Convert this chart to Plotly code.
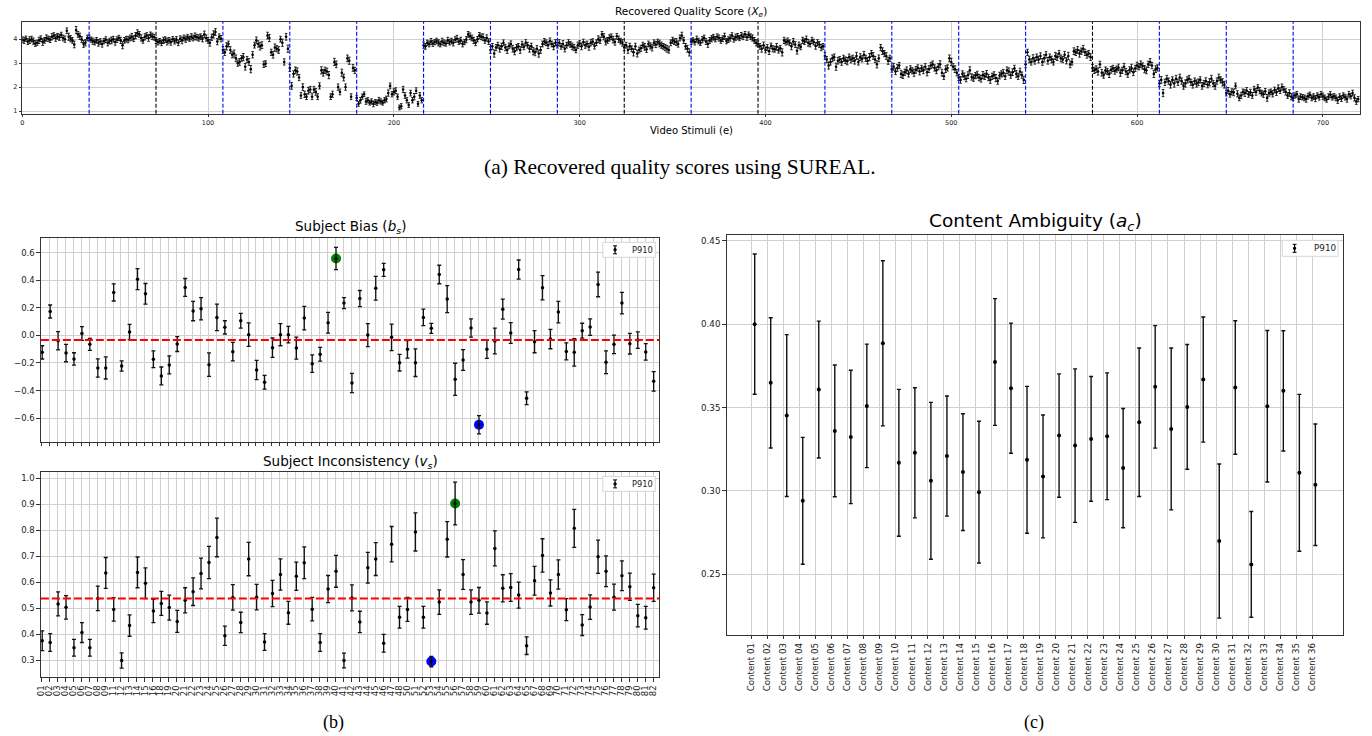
import numpy as np
import plotly.graph_objects as go

# ---------------- (a) Recovered quality scores, 20 blocks of 36 stimuli ----------------
seg_01 = [3.98, 3.95, 4.02, 3.90, 3.96, 4.00, 3.92, 3.82, 3.85, 3.95, 4.02, 3.88, 3.95, 4.05, 4.02, 3.98, 4.10, 4.15, 4.05, 4.12, 4.08, 4.18, 4.05, 4.00, 4.35, 4.10, 4.02, 3.95, 3.78, 4.38, 4.20, 4.12, 3.98, 3.80, 3.85, 4.05]
seg_02 = [4.05, 3.98, 3.92, 3.88, 3.95, 3.85, 3.90, 3.80, 3.92, 3.98, 3.85, 3.92, 3.95, 4.00, 3.88, 3.98, 4.05, 3.95, 3.75, 3.95, 4.00, 3.98, 4.05, 4.10, 4.02, 4.15, 4.25, 4.20, 4.05, 3.95, 4.10, 4.15, 4.05, 4.18, 4.12, 4.08]
seg_03 = [3.95, 3.88, 3.92, 3.85, 3.95, 3.98, 3.90, 3.95, 3.88, 4.00, 3.92, 3.98, 3.85, 4.02, 3.95, 4.05, 4.00, 4.08, 4.02, 4.10, 4.05, 4.12, 4.08, 4.05, 4.10, 4.02, 4.20, 4.05, 3.95, 3.85, 4.08, 4.20, 4.30, 3.90, 4.10, 4.02]
seg_04 = [3.55, 3.45, 3.70, 3.80, 3.55, 3.35, 3.40, 3.20, 3.00, 3.05, 3.20, 3.25, 2.85, 3.15, 3.05, 2.75, 3.35, 3.75, 3.95, 3.80, 3.70, 3.75, 2.95, 2.98, 4.15, 4.05, 3.45, 3.35, 3.65, 3.60, 3.55, 4.00, 3.85, 3.05, 4.10, 3.60]
seg_05 = [2.80, 2.05, 2.55, 2.70, 2.65, 2.40, 1.65, 2.00, 1.70, 1.60, 1.85, 1.90, 1.60, 1.90, 1.80, 1.60, 2.05, 2.70, 2.60, 2.70, 2.65, 2.50, 1.60, 1.70, 3.05, 2.95, 2.00, 1.80, 2.60, 2.40, 2.00, 3.20, 3.10, 1.60, 2.80, 2.70]
seg_06 = [1.55, 1.30, 1.45, 1.60, 1.70, 1.40, 1.45, 1.35, 1.40, 1.30, 1.38, 1.35, 1.45, 1.40, 1.35, 1.45, 1.50, 1.75, 2.05, 1.70, 1.80, 1.85, 1.60, 1.15, 1.20, 1.90, 1.65, 1.45, 1.25, 1.75, 1.45, 1.60, 1.85, 1.30, 1.65, 1.45]
seg_07 = [3.75, 3.70, 3.85, 3.80, 3.90, 3.82, 3.88, 3.92, 3.85, 3.80, 3.90, 3.85, 3.82, 3.95, 3.88, 3.92, 3.85, 3.98, 4.02, 3.90, 3.95, 3.80, 3.88, 3.98, 4.20, 4.12, 4.05, 3.95, 3.85, 4.00, 4.15, 4.10, 4.08, 3.95, 4.05, 3.90]
seg_08 = [3.55, 3.70, 3.40, 3.65, 3.75, 3.60, 3.70, 3.85, 3.65, 3.55, 3.72, 3.80, 3.60, 3.50, 3.65, 3.70, 3.55, 3.78, 3.68, 3.85, 3.75, 3.60, 3.70, 3.50, 3.45, 3.60, 3.40, 3.55, 3.80, 3.90, 3.85, 3.75, 3.92, 3.80, 3.70, 3.85]
seg_09 = [3.75, 3.85, 3.70, 3.80, 3.60, 3.75, 3.85, 3.78, 3.70, 3.65, 3.55, 3.75, 3.82, 3.70, 3.88, 3.75, 3.80, 3.68, 3.85, 3.90, 3.72, 3.85, 4.00, 3.95, 4.20, 4.10, 3.90, 3.95, 4.05, 4.10, 3.98, 3.88, 4.12, 4.00, 3.92, 3.85]
seg_10 = [3.65, 3.75, 3.55, 3.70, 3.60, 3.45, 3.70, 3.40, 3.55, 3.62, 3.75, 3.68, 3.58, 3.80, 3.72, 3.65, 3.85, 3.78, 3.88, 3.82, 3.75, 3.70, 3.65, 3.60, 3.55, 3.85, 3.95, 3.90, 3.88, 3.80, 4.05, 4.15, 3.95, 3.70, 3.60, 3.45]
seg_11 = [3.90, 3.95, 3.88, 4.00, 3.92, 3.85, 3.98, 4.05, 3.90, 3.80, 3.95, 4.02, 4.08, 4.00, 4.10, 4.05, 3.95, 4.02, 4.12, 3.92, 3.98, 4.05, 4.15, 4.00, 4.08, 4.12, 4.05, 4.15, 4.10, 4.20, 4.08, 4.18, 4.10, 4.05, 3.95, 3.85]
seg_12 = [3.80, 3.70, 3.60, 3.75, 3.55, 3.65, 3.50, 3.72, 3.60, 3.58, 3.68, 3.55, 3.62, 3.45, 3.95, 3.88, 3.92, 3.85, 3.70, 3.90, 3.78, 3.52, 3.75, 3.68, 3.95, 3.90, 4.00, 3.85, 3.80, 3.95, 3.88, 3.72, 3.85, 3.78, 3.65, 3.70]
seg_13 = [3.30, 3.15, 2.90, 3.05, 3.20, 3.25, 2.85, 3.10, 3.15, 3.05, 3.20, 3.12, 3.08, 3.25, 3.15, 3.20, 3.10, 3.30, 3.05, 3.25, 3.18, 3.35, 3.20, 3.10, 3.25, 3.40, 3.30, 3.15, 2.95, 3.20, 3.65, 3.50, 3.40, 3.30, 3.10, 3.20]
seg_14 = [2.75, 2.85, 2.65, 2.80, 2.90, 2.55, 2.50, 2.62, 2.70, 2.55, 2.75, 2.68, 2.60, 2.72, 2.80, 2.65, 2.78, 2.70, 2.85, 2.62, 2.75, 2.90, 2.95, 2.80, 2.70, 2.85, 2.95, 2.60, 2.45, 2.75, 2.80, 3.20, 3.05, 2.85, 2.75, 2.60]
seg_15 = [2.40, 2.30, 2.55, 2.45, 2.35, 2.50, 2.70, 2.42, 2.38, 2.48, 2.52, 2.40, 2.35, 2.50, 2.45, 2.55, 2.40, 2.30, 2.45, 2.50, 2.38, 2.25, 2.48, 2.55, 2.60, 2.45, 2.70, 2.65, 2.50, 2.62, 2.78, 2.55, 2.45, 2.65, 2.50, 2.30]
seg_16 = [2.95, 3.45, 3.15, 3.05, 3.20, 3.10, 3.25, 3.15, 3.30, 3.05, 3.20, 3.35, 3.10, 3.25, 3.15, 3.05, 3.30, 3.25, 3.40, 3.20, 3.15, 3.35, 3.10, 3.30, 2.95, 3.05, 3.50, 3.45, 3.55, 3.40, 3.50, 3.60, 3.45, 3.35, 3.40, 3.25]
seg_17 = [2.80, 2.70, 2.75, 2.65, 2.95, 2.60, 2.50, 2.70, 2.65, 2.55, 2.72, 2.78, 2.68, 2.75, 2.82, 2.60, 2.70, 2.85, 2.65, 2.55, 2.72, 2.80, 2.62, 2.78, 2.90, 2.85, 2.95, 2.88, 2.75, 2.70, 2.95, 3.05, 2.90, 2.55, 2.75, 2.80]
seg_18 = [2.15, 2.30, 1.75, 2.20, 2.35, 2.25, 2.10, 2.30, 2.15, 2.35, 2.20, 2.40, 2.25, 2.05, 2.15, 2.30, 2.35, 2.20, 2.10, 2.25, 2.15, 2.20, 2.30, 2.05, 2.15, 2.25, 2.10, 2.20, 2.35, 2.15, 2.05, 2.25, 2.40, 2.30, 2.20, 2.10]
seg_19 = [1.75, 1.85, 1.70, 1.80, 1.78, 2.05, 1.72, 1.55, 1.65, 1.80, 1.75, 1.85, 1.70, 1.78, 1.65, 1.90, 1.80, 1.98, 1.85, 1.75, 1.70, 1.82, 1.55, 1.75, 1.80, 1.72, 1.88, 1.78, 1.95, 1.85, 2.00, 1.90, 1.80, 1.65, 1.75, 1.60]
seg_20 = [1.55, 1.65, 1.70, 1.50, 1.60, 1.58, 1.55, 1.50, 1.62, 1.68, 1.55, 1.60, 1.52, 1.65, 1.58, 1.70, 1.62, 1.55, 1.48, 1.60, 1.68, 1.58, 1.62, 1.55, 1.45, 1.60, 1.52, 1.65, 1.58, 1.50, 1.70, 1.62, 1.75, 1.55, 1.40, 1.50]

# 95% CI half-widths (hundredths)
err_01 = [12, 13, 11, 12, 14, 12, 13, 12, 11, 13, 12, 14, 12, 13, 11, 12, 13, 12, 14, 12, 13, 11, 12, 13, 12, 15, 13, 12, 14, 15, 12, 13, 12, 14, 13, 12]
err_02 = [12, 11, 13, 12, 12, 14, 12, 13, 11, 12, 13, 12, 14, 12, 13, 12, 11, 13, 15, 12, 12, 13, 12, 14, 12, 13, 14, 12, 13, 12, 13, 12, 14, 12, 13, 12]
err_03 = [13, 12, 11, 12, 13, 12, 14, 12, 13, 11, 12, 13, 12, 12, 14, 12, 13, 12, 11, 13, 12, 14, 12, 13, 12, 13, 14, 13, 12, 14, 13, 15, 14, 13, 12, 13]
err_04 = [14, 13, 15, 12, 14, 13, 15, 14, 13, 14, 12, 15, 14, 13, 14, 15, 13, 12, 14, 13, 15, 14, 13, 12, 14, 15, 13, 14, 15, 13, 14, 12, 15, 13, 14, 15]
err_05 = [15, 14, 13, 14, 15, 13, 12, 14, 13, 12, 14, 13, 12, 13, 14, 12, 13, 15, 14, 13, 14, 15, 12, 13, 15, 14, 13, 12, 15, 14, 13, 14, 15, 12, 14, 13]
err_06 = [11, 10, 12, 11, 10, 12, 11, 10, 11, 12, 10, 11, 12, 11, 10, 11, 12, 13, 12, 11, 13, 12, 11, 10, 11, 13, 12, 11, 10, 12, 11, 13, 12, 10, 12, 11]
err_07 = [13, 12, 11, 12, 13, 12, 11, 12, 13, 12, 14, 12, 11, 13, 12, 12, 13, 12, 14, 12, 13, 12, 11, 13, 12, 14, 12, 13, 12, 11, 13, 12, 14, 12, 13, 12]
err_08 = [14, 12, 15, 13, 12, 14, 13, 12, 13, 14, 12, 13, 14, 15, 13, 12, 14, 13, 12, 13, 12, 14, 13, 15, 14, 13, 15, 14, 12, 13, 12, 14, 13, 12, 14, 13]
err_09 = [12, 13, 12, 14, 13, 12, 13, 12, 14, 13, 12, 13, 12, 14, 12, 13, 12, 14, 13, 12, 13, 12, 14, 13, 12, 13, 14, 12, 13, 12, 14, 13, 12, 13, 12, 14]
err_10 = [13, 12, 14, 13, 12, 15, 13, 14, 12, 13, 12, 14, 13, 12, 13, 14, 12, 13, 12, 14, 13, 12, 13, 14, 13, 12, 13, 12, 14, 13, 12, 14, 13, 12, 14, 15]
err_11 = [12, 11, 12, 13, 12, 11, 13, 12, 12, 14, 12, 13, 12, 11, 12, 13, 12, 12, 13, 11, 12, 13, 12, 12, 13, 12, 11, 13, 12, 12, 13, 12, 12, 13, 12, 13]
err_12 = [13, 12, 14, 13, 12, 13, 14, 12, 13, 12, 14, 13, 12, 15, 13, 12, 13, 12, 14, 13, 12, 14, 13, 12, 13, 12, 13, 14, 12, 13, 12, 14, 13, 12, 13, 12]
err_13 = [14, 13, 15, 13, 14, 13, 15, 14, 13, 14, 13, 14, 15, 13, 14, 13, 14, 15, 13, 14, 13, 14, 13, 14, 15, 13, 14, 13, 15, 14, 13, 14, 13, 14, 15, 13]
err_14 = [13, 14, 13, 14, 13, 15, 14, 13, 14, 13, 14, 13, 15, 14, 13, 14, 13, 14, 13, 15, 14, 13, 14, 13, 14, 13, 15, 14, 13, 14, 13, 14, 15, 13, 14, 13]
err_15 = [13, 14, 13, 14, 13, 14, 15, 13, 14, 13, 14, 13, 14, 15, 13, 14, 13, 14, 13, 14, 15, 13, 14, 13, 14, 13, 14, 15, 13, 14, 13, 14, 13, 14, 13, 15]
err_16 = [14, 13, 14, 13, 15, 14, 13, 14, 13, 14, 15, 13, 14, 13, 14, 13, 15, 14, 13, 14, 13, 14, 13, 15, 14, 13, 14, 13, 14, 15, 13, 14, 13, 14, 13, 14]
err_17 = [14, 13, 14, 15, 13, 14, 13, 14, 13, 15, 14, 13, 14, 13, 14, 15, 13, 14, 13, 14, 13, 15, 14, 13, 14, 13, 14, 13, 15, 14, 13, 14, 13, 15, 14, 13]
err_18 = [13, 14, 15, 13, 14, 13, 14, 13, 15, 14, 13, 14, 13, 14, 15, 13, 14, 13, 14, 13, 15, 14, 13, 14, 13, 14, 13, 15, 14, 13, 14, 13, 14, 13, 15, 14]
err_19 = [12, 13, 12, 13, 14, 12, 13, 12, 13, 12, 14, 13, 12, 13, 12, 13, 14, 12, 13, 12, 13, 12, 14, 13, 12, 13, 12, 13, 14, 12, 13, 12, 13, 12, 14, 13]
err_20 = [12, 11, 12, 13, 12, 11, 12, 13, 12, 11, 12, 12, 13, 11, 12, 12, 13, 12, 11, 12, 13, 12, 11, 12, 13, 12, 12, 11, 12, 13, 12, 11, 12, 13, 12, 11]

segments = [seg_01, seg_02, seg_03, seg_04, seg_05, seg_06, seg_07, seg_08, seg_09, seg_10,
            seg_11, seg_12, seg_13, seg_14, seg_15, seg_16, seg_17, seg_18, seg_19, seg_20]
seg_errors = [err_01, err_02, err_03, err_04, err_05, err_06, err_07, err_08, err_09, err_10,
              err_11, err_12, err_13, err_14, err_15, err_16, err_17, err_18, err_19, err_20]

block_boundaries = [36, 72, 108, 144, 180, 216, 252, 288, 324, 360, 396, 432, 468, 504, 540, 576, 612, 648, 684]
boundary_colors = ["blue", "black", "blue", "blue", "blue", "blue", "blue", "blue", "black", "blue",
                   "black", "blue", "blue", "blue", "blue", "black", "blue", "blue", "blue"]

# ---------------- (b) Subject bias / inconsistency ----------------
subjects = ["01", "02", "03", "04", "05", "06", "07", "08", "09", "11", "12", "13", "14", "15", "16",
            "18", "19", "20", "21", "22", "23", "24", "25", "26", "27", "28", "29", "30", "31", "32",
            "33", "34", "35", "36", "37", "38", "39", "40", "41", "42", "43", "44", "45", "46", "47",
            "48", "50", "51", "52", "53", "54", "55", "56", "57", "58", "59", "60", "61", "62", "63",
            "64", "65", "67", "68", "69", "70", "71", "72", "73", "74", "75", "76", "77", "78", "79",
            "80", "81", "82"]

bias = [-0.123, 0.173, -0.039, -0.128, -0.171, 0.014, -0.065, -0.236, -0.236, 0.311, -0.222, 0.024,
        0.407, 0.301, -0.173, -0.294, -0.214, -0.063, 0.347, 0.176, 0.193, -0.212, 0.130, 0.058,
        -0.118, 0.106, 0.005, -0.251, -0.340, -0.089, 0.005, 0.005, -0.092, 0.125, -0.205, -0.137,
        0.092, 0.557, 0.234, -0.345, 0.267, 0.002, 0.342, 0.475, -0.014, -0.198, -0.101, -0.198,
        0.130, 0.051, 0.441, 0.263, -0.318, -0.178, 0.053, -0.648, -0.101, -0.041, 0.190, 0.017,
        0.477, -0.455, -0.046, 0.345, -0.027, 0.169, -0.116, -0.123, 0.034, 0.060, 0.369, -0.195,
        -0.065, 0.234, -0.060, -0.034, -0.120, -0.333]
bias_err = [0.048, 0.047, 0.066, 0.063, 0.045, 0.050, 0.043, 0.066, 0.080, 0.062, 0.037, 0.055,
            0.076, 0.075, 0.061, 0.065, 0.065, 0.054, 0.065, 0.070, 0.080, 0.085, 0.096, 0.048,
            0.067, 0.053, 0.085, 0.070, 0.050, 0.070, 0.080, 0.060, 0.080, 0.085, 0.063, 0.050,
            0.075, 0.080, 0.040, 0.070, 0.058, 0.083, 0.086, 0.047, 0.096, 0.060, 0.064, 0.100,
            0.060, 0.036, 0.067, 0.098, 0.116, 0.075, 0.066, 0.066, 0.065, 0.093, 0.073, 0.075,
            0.069, 0.046, 0.080, 0.088, 0.070, 0.078, 0.061, 0.100, 0.054, 0.060, 0.089, 0.082,
            0.067, 0.078, 0.075, 0.060, 0.060, 0.071]
bias_mean_line = -0.034

inconsistency = [0.376, 0.369, 0.517, 0.504, 0.349, 0.407, 0.349, 0.538, 0.636, 0.496, 0.300, 0.434,
                 0.638, 0.596, 0.490, 0.519, 0.503, 0.450, 0.531, 0.564, 0.634, 0.676, 0.772, 0.395,
                 0.542, 0.446, 0.689, 0.543, 0.371, 0.557, 0.630, 0.483, 0.623, 0.675, 0.497, 0.369,
                 0.574, 0.642, 0.300, 0.540, 0.448, 0.656, 0.689, 0.366, 0.746, 0.466, 0.496, 0.793,
                 0.466, 0.296, 0.524, 0.765, 0.902, 0.630, 0.524, 0.531, 0.482, 0.730, 0.577, 0.580,
                 0.551, 0.357, 0.606, 0.703, 0.559, 0.630, 0.495, 0.807, 0.436, 0.505, 0.698, 0.642,
                 0.543, 0.625, 0.583, 0.472, 0.464, 0.579]
inconsistency_err = [0.038, 0.034, 0.046, 0.045, 0.032, 0.038, 0.032, 0.047, 0.059, 0.045, 0.029, 0.041,
                     0.059, 0.059, 0.045, 0.046, 0.048, 0.042, 0.048, 0.053, 0.059, 0.062, 0.074, 0.037,
                     0.049, 0.039, 0.064, 0.049, 0.032, 0.050, 0.060, 0.044, 0.054, 0.061, 0.045, 0.034,
                     0.052, 0.061, 0.028, 0.050, 0.041, 0.059, 0.063, 0.034, 0.068, 0.042, 0.046, 0.073,
                     0.042, 0.020, 0.047, 0.068, 0.082, 0.057, 0.047, 0.049, 0.043, 0.067, 0.052, 0.053,
                     0.050, 0.034, 0.055, 0.064, 0.050, 0.056, 0.042, 0.073, 0.040, 0.047, 0.064, 0.059,
                     0.050, 0.057, 0.052, 0.043, 0.044, 0.052]
inconsistency_mean_line = 0.538

# ---------------- (c) Content ambiguity ----------------
contents = ["Content %02d" % i for i in range(1, 37)]
ambiguity = [0.400, 0.3648, 0.3452, 0.2941, 0.3608, 0.3360, 0.3324, 0.3510, 0.3885, 0.3169, 0.3229,
             0.3061, 0.3209, 0.3113, 0.2993, 0.3773, 0.3616, 0.3187, 0.3087, 0.3332, 0.3272, 0.3312,
             0.3328, 0.3137, 0.3412, 0.3624, 0.3372, 0.3504, 0.3668, 0.2700, 0.3620, 0.2560, 0.3508,
             0.3600, 0.3109, 0.3037]
ambiguity_err = [0.042, 0.039, 0.0485, 0.038, 0.041, 0.0395, 0.040, 0.037, 0.0495, 0.044, 0.039,
                 0.047, 0.036, 0.035, 0.0425, 0.038, 0.039, 0.044, 0.0368, 0.037, 0.046, 0.0374,
                 0.038, 0.0357, 0.0445, 0.0367, 0.0485, 0.0374, 0.0375, 0.0462, 0.040, 0.0317,
                 0.0454, 0.036, 0.047, 0.0364]

legend_label = "P910"

# ---------------- build ----------------
W, H = 1372, 736
def px(x):
    return x / W
def py(y):
    return 1 - y / H

FONT = "DejaVu Sans"
SERIF = "Liberation Serif"
AX = "#333333"
GRID = "#cfcfcf"

quality = np.concatenate([np.array(s, dtype=float) for s in segments])
quality_err = np.concatenate([np.array(e, dtype=float) for e in seg_errors]) / 100.0
stimuli = np.arange(len(quality))

fig = go.Figure()

# (a)
fig.add_trace(go.Scatter(
    x=stimuli, y=quality, mode="markers", xaxis="x", yaxis="y",
    marker=dict(color="black", size=2.6),
    error_y=dict(type="data", array=quality_err, color="#111111", thickness=0.9, width=1.3),
    showlegend=False, hoverinfo="skip"))

# (b)
sub_idx = np.arange(len(subjects))
sub_x = sub_idx + 0.08
bias_a = np.array(bias)
inc_a = np.array(inconsistency)

for arr, xa, ya in [(bias_a, "x2", "y2"), (inc_a, "x3", "y3")]:
    imax, imin = int(np.argmax(arr)), int(np.argmin(arr))
    fig.add_trace(go.Scatter(x=[sub_x[imax]], y=[arr[imax]], mode="markers", xaxis=xa, yaxis=ya,
                             marker=dict(color="green", size=10), showlegend=False, hoverinfo="skip"))
    fig.add_trace(go.Scatter(x=[sub_x[imin]], y=[arr[imin]], mode="markers", xaxis=xa, yaxis=ya,
                             marker=dict(color="blue", size=10), showlegend=False, hoverinfo="skip"))

fig.add_trace(go.Scatter(
    x=sub_x, y=bias, mode="markers", xaxis="x2", yaxis="y2",
    marker=dict(color="black", size=3.5),
    error_y=dict(type="data", array=bias_err, color="#111111", thickness=1.3, width=2),
    showlegend=False, hoverinfo="skip"))
fig.add_trace(go.Scatter(
    x=sub_x, y=inconsistency, mode="markers", xaxis="x3", yaxis="y3",
    marker=dict(color="black", size=3.5),
    error_y=dict(type="data", array=inconsistency_err, color="#111111", thickness=1.3, width=2),
    showlegend=False, hoverinfo="skip"))

# (c)
c_idx = np.arange(len(contents))
fig.add_trace(go.Scatter(
    x=c_idx + 0.2, y=ambiguity, mode="markers", xaxis="x4", yaxis="y4",
    marker=dict(color="black", size=4),
    error_y=dict(type="data", array=ambiguity_err, color="#111111", thickness=1.4, width=2),
    showlegend=False, hoverinfo="skip"))

def axis_style(**kw):
    d = dict(showline=True, mirror=True, linecolor=AX, linewidth=1, ticks="outside", ticklen=3.5,
             tickcolor=AX, tickwidth=0.8, showgrid=True, gridcolor=GRID, gridwidth=1, zeroline=False,
             tickfont=dict(family=FONT, size=8.5, color="#222"))
    d.update(kw)
    return d

fig.update_layout(
    width=W, height=H, margin=dict(l=0, r=0, t=0, b=0),
    paper_bgcolor="white", plot_bgcolor="white", showlegend=False,
    xaxis=axis_style(domain=[px(17.3), px(1360)], anchor="y", range=[0, 720], tickmode="array",
                     tickvals=[0, 100, 200, 300, 400, 500, 600, 700], ticklen=2.5,
                     tickfont=dict(family=FONT, size=6.5, color="#222")),
    yaxis=axis_style(domain=[py(114), py(22)], anchor="x", range=[0.89, 4.72], tickmode="array",
                     tickvals=[1, 2, 3, 4], ticklen=2.5, tickfont=dict(family=FONT, size=6.5, color="#222")),
    xaxis2=axis_style(domain=[px(36), px(656.7)], anchor="y2", range=[-0.09, 77.79], tickmode="array",
                      tickvals=list(sub_idx), ticktext=subjects, showticklabels=False),
    yaxis2=axis_style(domain=[py(443), py(238.3)], anchor="x2", range=[-0.771, 0.708], tickmode="array",
                      tickvals=[-0.6, -0.4, -0.2, 0.0, 0.2, 0.4, 0.6], tickformat=".1f"),
    xaxis3=axis_style(domain=[px(36), px(656.7)], anchor="y3", range=[-0.09, 77.79], tickmode="array",
                      tickvals=list(sub_idx), ticktext=subjects, tickangle=-90),
    yaxis3=axis_style(domain=[py(679.3), py(473.3)], anchor="x3", range=[0.235, 1.023], tickmode="array",
                      tickvals=[0.3, 0.4, 0.5, 0.6, 0.7, 0.8, 0.9, 1.0], tickformat=".1f"),
    xaxis4=axis_style(domain=[px(724.3), px(1343.3)], anchor="y4", range=[-1.55, 36.95], tickmode="array",
                      tickvals=list(c_idx), ticktext=contents, tickangle=-90,
                      tickfont=dict(family=FONT, size=8.7, color="#222")),
    yaxis4=axis_style(domain=[py(636.7), py(236)], anchor="x4", range=[0.2137, 0.4532], tickmode="array",
                      tickvals=[0.25, 0.30, 0.35, 0.40, 0.45], tickformat=".2f",
                      tickfont=dict(family=FONT, size=8.7, color="#222")),
)

shapes = []
for b, col in zip(block_boundaries, boundary_colors):
    shapes.append(dict(type="line", xref="x", yref="y domain", x0=b, x1=b, y0=0, y1=1,
                       line=dict(color=col, width=1.1, dash="4px,2px"), layer="above"))
shapes.append(dict(type="line", xref="x2 domain", yref="y2", x0=0, x1=1, y0=bias_mean_line, y1=bias_mean_line,
                   line=dict(color="red", width=2, dash="8px,3px"), layer="above"))
shapes.append(dict(type="line", xref="x3 domain", yref="y3", x0=0, x1=1, y0=inconsistency_mean_line,
                   y1=inconsistency_mean_line, line=dict(color="red", width=2, dash="8px,3px"), layer="above"))

annotations = []

def add_legend(x0, y0, x1, y1, gx, tx, fsize):
    shapes.append(dict(type="rect", xref="paper", yref="paper", x0=px(x0), x1=px(x1), y0=py(y1), y1=py(y0),
                       line=dict(color="#d6d6d6", width=1), fillcolor="white", layer="above"))
    yc = (y0 + y1) / 2
    shapes.append(dict(type="line", xref="paper", yref="paper", x0=px(gx), x1=px(gx), y0=py(yc + 4), y1=py(yc - 4),
                       line=dict(color="black", width=1.2), layer="above"))
    for yy in (yc - 4, yc + 4):
        shapes.append(dict(type="line", xref="paper", yref="paper", x0=px(gx - 2), x1=px(gx + 2), y0=py(yy), y1=py(yy),
                           line=dict(color="black", width=1), layer="above"))
    shapes.append(dict(type="circle", xref="paper", yref="paper", x0=px(gx - 1.7), x1=px(gx + 1.7),
                       y0=py(yc + 1.7), y1=py(yc - 1.7), fillcolor="black", line=dict(width=0), layer="above"))
    annotations.append(dict(x=px(tx), y=py(yc), xref="paper", yref="paper", text=legend_label, showarrow=False,
                            xanchor="left", yanchor="middle", font=dict(family=FONT, size=fsize, color="#222")))

add_legend(600, 243, 652.7, 258, 612.3, 627, 8.3)
add_legend(600, 477.7, 652.7, 492.7, 612.3, 627, 8.3)
add_legend(1282, 241, 1338, 257, 1294.3, 1311.5, 8.8)

def text(x, y, s, size, family=FONT):
    annotations.append(dict(x=px(x), y=py(y), xref="paper", yref="paper", text=s, showarrow=False,
                            xanchor="center", yanchor="middle", font=dict(family=family, size=size, color="black")))

text(688.7, 12, "Recovered Quality Score (<i>X</i><sub><i>e</i></sub>)", 10.5)
text(689, 131, "Video Stimuli (e)", 10)
text(677, 167, "(a) Recovered quality scores using SUREAL.", 21.5, SERIF)
text(346.5, 228, "Subject Bias (<i>b</i><sub><i>s</i></sub>)", 13.5)
text(346.5, 463, "Subject Inconsistency (<i>v</i><sub><i>s</i></sub>)", 13.5)
text(1034, 223, "Content Ambiguity (<i>a</i><sub><i>c</i></sub>)", 18.5)
text(330, 724, "(b)", 18, SERIF)
text(1033, 724, "(c)", 18, SERIF)

fig.update_layout(shapes=shapes, annotations=annotations)
fig.write_html("out.html")
